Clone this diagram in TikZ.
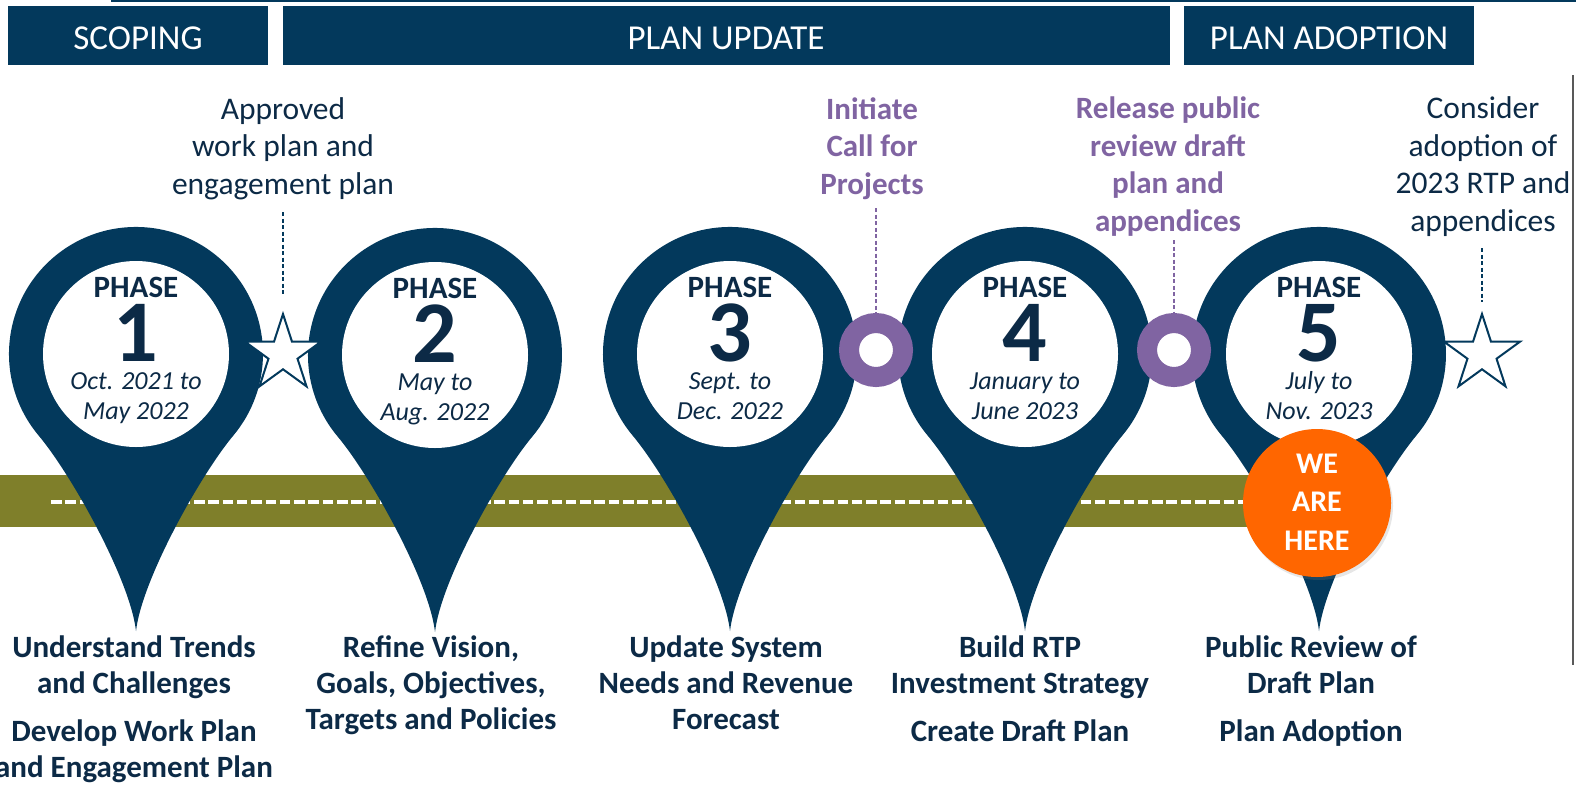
\documentclass[tikz,border=0pt]{standalone}
\usepackage{fontspec}
\setmainfont{Carlito}
\usetikzlibrary{shapes.geometric,shadows}
\definecolor{navy}{RGB}{3,57,92}
\definecolor{txtnavy}{RGB}{12,42,70}
\definecolor{olive}{RGB}{127,127,42}
\definecolor{purp}{RGB}{128,100,162}
\definecolor{orng}{RGB}{255,102,0}
\tikzset{
  hdrbox/.style={fill=navy, anchor=north west, inner sep=0},
  hdrtext/.style={text=white, font=\fontsize{35}{40}\selectfont, anchor=base, inner sep=0},
  phasetxt/.style={text=txtnavy, font=\bfseries\fontsize{31}{36}\selectfont, anchor=base, inner sep=0},
  digittxt/.style={text=txtnavy, font=\bfseries\fontsize{88}{90}\selectfont, anchor=base, inner sep=0},
  datetxt/.style={text=txtnavy, font=\itshape\fontsize{26}{30}\selectfont, anchor=base, inner sep=0},
  notetxt/.style={text=txtnavy, font=\fontsize{31.5}{37.5}\selectfont, align=center, anchor=base, inner sep=0},
  pnotetxt/.style={text=purp, font=\bfseries\fontsize{31}{37.5}\selectfont, align=center, anchor=base, inner sep=0},
  tasktxt/.style={text=txtnavy, font=\bfseries\fontsize{31}{36}\selectfont, align=center, anchor=base, inner sep=0},
  heretxt/.style={text=white, font=\bfseries\fontsize{30}{38.5}\selectfont, align=center, anchor=base, inner sep=0},
  hole/.style={circle, fill=white, minimum size=186, inner sep=0},
  ring/.style={circle, draw=purp, line width=20, fill=white, minimum size=54, inner sep=0},
  starmark/.style={star, star points=5, star point ratio=2.618, minimum size=80, inner sep=0, draw=navy, line width=2, fill=white},
  navydash/.style={draw=navy, line width=1.8, dash pattern=on 4pt off 2.5pt},
  purpdash/.style={draw=purp, line width=1.8, dash pattern=on 4pt off 2.5pt},
}
\newcommand\mappin[6]{%
  \begin{scope}[shift={(#1,#2)}]
    \fill[navy] (0,277) .. controls (-6,225) and (-65.2,119.9) .. (-97.3,81.6)
      arc[start angle=140, end angle=400, radius=127]
      .. controls (65.2,119.9) and (6,225) .. (0,277) -- cycle;
  \end{scope}
  \node[hole] (#3) at (#1,#2) {};
  \node[phasetxt] (#3p) at (#1,#2-57) {PHASE};
  \node[digittxt] (#3n) at (#1,#2+7) {#4};
  \node[datetxt] (#3d) at (#1,#2+35) {#5};
  \node[datetxt] (#3e) at (#1,#2+65) {#6};
}
\begin{document}
\begin{tikzpicture}[x=1pt,y=-1pt]
\useasboundingbox (0,0) rectangle (1576,785);
% top rule and right rule
\draw[navy, line width=2] (111,1) -- (1576,1);
\draw[black!65, line width=1.2] (1573,75) -- (1573,665);
% headers
\node[hdrbox, minimum width=260, minimum height=59] (h1) at (8,6) {};
\node[hdrbox, minimum width=887, minimum height=59] (h2) at (283,6) {};
\node[hdrbox, minimum width=290, minimum height=59] (h3) at (1184,6) {};
\node[hdrtext] (h1t) at (138,49) {SCOPING};
\node[hdrtext] (h2t) at (726,49) {PLAN UPDATE};
\node[hdrtext] (h3t) at (1329,49) {PLAN ADOPTION};
% road
\fill[olive] (0,475) rectangle (1317,527);
\draw[white, line width=3.3, dash pattern=on 10.5pt off 3.8pt] (51,502) -- (1300,502);
% pins
\mappin{136}{354}{pa}{1}{Oct. 2021 to}{May 2022}
\mappin{435}{355}{pb}{2}{May to}{Aug. 2022}
\mappin{730}{354}{pc}{3}{Sept. to}{Dec. 2022}
\mappin{1025}{354}{pd}{4}{January to}{June 2023}
\mappin{1319}{354}{pe}{5}{July to}{Nov. 2023}
% milestones
\coordinate (c1a) at (283,212);
\coordinate (c1b) at (283,295);
\draw[navydash] (c1a) -- (c1b);
\node[starmark] (s1) at (283,354) {};
\coordinate (c2a) at (876,208);
\node[ring] (r1) at (876,350) {};
\draw[purpdash] (c2a) -- (r1.north);
\coordinate (c3a) at (1174,240);
\node[ring] (r2) at (1174,350) {};
\draw[purpdash] (c3a) -- (r2.north);
\coordinate (c4a) at (1482,248);
\coordinate (c4b) at (1482,302);
\draw[navydash] (c4a) -- (c4b);
\node[starmark] (s2) at (1482,354) {};
% we are here
\node[circle, fill=orng, minimum size=148, inner sep=0,
      drop shadow={opacity=0.2, shadow xshift=2pt, shadow yshift=-3pt}] (here) at (1317,503) {};
\node[heretxt] (heret) at (1317,550) {WE\\ARE\\HERE};
% milestone notes (anchor = baseline of last line)
\node[notetxt] (a1) at (283,194) {Approved\\work plan and\\engagement plan};
\node[pnotetxt] (a2) at (872,194) {Initiate\\Call for\\Projects};
\node[pnotetxt] (a3) at (1168,231) {Release public\\review draft\\plan and\\appendices};
\node[notetxt] (a4) at (1483,231) {Consider\\adoption of\\2023 RTP and\\appendices};
% tasks
\node[tasktxt] (t1a) at (134,693) {Understand Trends\\and Challenges};
\node[tasktxt] (t1b) at (134,777) {Develop Work Plan\\and Engagement Plan};
\node[tasktxt] (t2) at (431,729) {Refine Vision,\\Goals, Objectives,\\Targets and Policies};
\node[tasktxt] (t3) at (726,729) {Update System\\Needs and Revenue\\Forecast};
\node[tasktxt] (t4a) at (1020,693) {Build RTP\\Investment Strategy};
\node[tasktxt] (t4b) at (1020,741) {Create Draft Plan};
\node[tasktxt] (t5a) at (1311,693) {Public Review of\\Draft Plan};
\node[tasktxt] (t5b) at (1311,741) {Plan Adoption};
\end{tikzpicture}
\end{document}
